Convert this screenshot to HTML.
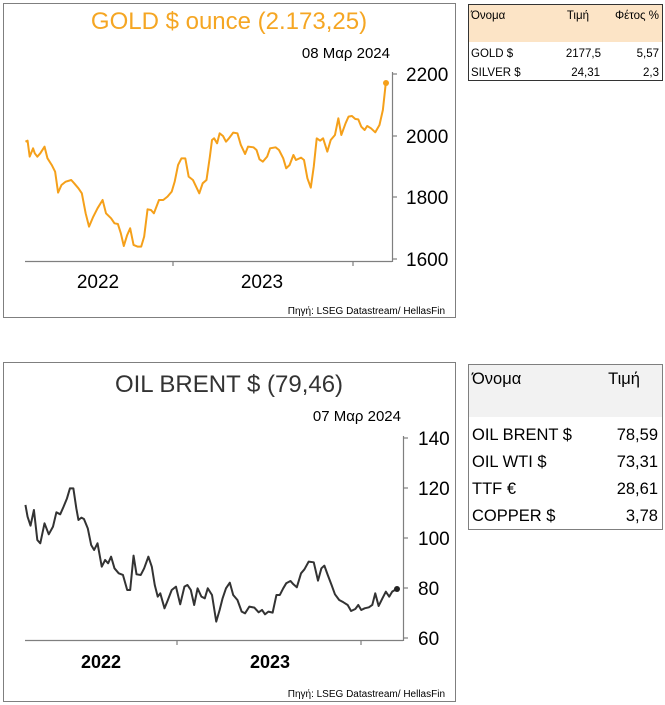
<!DOCTYPE html>
<html><head><meta charset="utf-8"><style>
body{margin:0;background:#fff;}
svg{display:block;font-family:"Liberation Sans","DejaVu Sans",sans-serif;}
</style></head><body>
<svg width="665" height="705" viewBox="0 0 665 705">
<rect x="0" y="0" width="665" height="705" fill="#fff"/>
<!-- GOLD panel -->
<rect x="3.5" y="3.5" width="452" height="314" fill="#fff" stroke="#7f7f7f" stroke-width="1"/>
<text x="229" y="29" text-anchor="middle" font-size="24" fill="#f5a623">GOLD $ ounce (2.173,25)</text>
<text x="390" y="58" text-anchor="end" font-size="15" fill="#000">08 Μαρ 2024</text>
<line x1="25" y1="261.5" x2="392" y2="261.5" stroke="#7f7f7f" stroke-width="1.2"/>
<line x1="392.5" y1="72" x2="392.5" y2="262" stroke="#7f7f7f" stroke-width="1.2"/>
<g stroke="#7f7f7f" stroke-width="1.2">
<line x1="392" y1="74" x2="397" y2="74"/><line x1="392" y1="136" x2="397" y2="136"/><line x1="392" y1="197" x2="397" y2="197"/><line x1="392" y1="259" x2="397" y2="259"/>
<line x1="173" y1="261" x2="173" y2="266"/><line x1="353" y1="261" x2="353" y2="266"/>
</g>
<g font-size="19" fill="#000">
<text x="406" y="81">2200</text><text x="406" y="143">2000</text><text x="406" y="204">1800</text><text x="406" y="266">1600</text>
<text x="98" y="288" text-anchor="middle">2022</text><text x="262" y="288" text-anchor="middle">2023</text>
</g>
<text x="445" y="314" text-anchor="end" font-size="10" fill="#000">Πηγή: LSEG Datastream/ HellasFin</text>
<g transform="scale(0.424,0.3333)">
<polyline fill="none" stroke="#f5a01a" stroke-width="2" vector-effect="non-scaling-stroke" stroke-linejoin="round" points="60,425 65,422 70,470 78,445 82,460 88,470 95,460 105,440 112,475 122,495 130,515 137,578 145,555 155,545 168,540 175,550 185,565 193,580 202,640 210,680 220,650 230,625 242,600 250,640 262,655 270,670 278,672 285,700 292,738 300,705 307,685 315,735 325,740 333,740 340,710 348,628 356,630 363,640 375,600 385,600 395,590 405,575 412,545 420,495 428,475 437,475 445,530 455,540 470,580 478,550 487,540 495,470 500,420 505,415 512,430 518,400 526,408 533,425 540,415 550,398 560,400 568,435 578,462 585,440 598,442 605,450 612,478 620,485 630,470 637,445 650,442 658,450 668,475 675,505 683,495 692,465 698,480 710,473 717,480 725,535 733,563 740,500 747,415 755,422 762,415 772,455 780,420 790,405 798,355 805,405 815,370 822,350 830,348 838,357 845,358 852,380 860,390 866,378 875,385 885,397 895,375 903,330 910,248"/>
</g>
<circle cx="386" cy="83" r="3" fill="#f5a01a"/>
<!-- GOLD table -->
<rect x="468.5" y="4.5" width="194" height="76" fill="#fff" stroke="#333" stroke-width="1"/>
<rect x="469" y="5" width="193" height="37" fill="#fce4c6"/>
<g font-size="11.5" fill="#000">
<text x="471" y="19">Όνομα</text><text x="589" y="19" text-anchor="end">Τιμή</text><text x="659" y="19" text-anchor="end">Φέτος %</text>
<text x="471" y="57">GOLD $</text><text x="601" y="57" text-anchor="end">2177,5</text><text x="659" y="57" text-anchor="end">5,57</text>
<text x="471" y="76">SILVER $</text><text x="600" y="76" text-anchor="end">24,31</text><text x="659" y="76" text-anchor="end">2,3</text>
</g>
<!-- OIL panel -->
<rect x="3.5" y="362.5" width="452" height="339" fill="#fff" stroke="#7f7f7f" stroke-width="1"/>
<text x="229" y="392" text-anchor="middle" font-size="24" fill="#333">OIL BRENT $ (79,46)</text>
<text x="401" y="421" text-anchor="end" font-size="15" fill="#000">07 Μαρ 2024</text>
<line x1="25" y1="640.5" x2="403" y2="640.5" stroke="#7f7f7f" stroke-width="1.2"/>
<line x1="403.5" y1="436" x2="403.5" y2="641" stroke="#7f7f7f" stroke-width="1.2"/>
<g stroke="#7f7f7f" stroke-width="1.2">
<line x1="403" y1="438" x2="408" y2="438"/><line x1="403" y1="488" x2="408" y2="488"/><line x1="403" y1="538" x2="408" y2="538"/><line x1="403" y1="588" x2="408" y2="588"/><line x1="403" y1="638" x2="408" y2="638"/>
<line x1="177" y1="640" x2="177" y2="645"/><line x1="361" y1="640" x2="361" y2="645"/>
</g>
<g font-size="19" fill="#000">
<text x="418" y="445">140</text><text x="418" y="495">120</text><text x="418" y="545">100</text><text x="418" y="595">80</text><text x="418" y="645">60</text>
<text x="101" y="668" text-anchor="middle" font-weight="bold" font-size="18">2022</text><text x="270" y="668" text-anchor="middle" font-weight="bold" font-size="18">2023</text>
</g>
<text x="445" y="697" text-anchor="end" font-size="10" fill="#000">Πηγή: LSEG Datastream/ HellasFin</text>
<g transform="translate(0,355) scale(0.424,0.3333)">
<polyline fill="none" stroke="#333" stroke-width="2" vector-effect="non-scaling-stroke" stroke-linejoin="round" points="60,450 65,485 72,512 80,465 88,555 95,565 105,505 115,538 125,515 133,472 142,478 150,455 158,430 165,400 173,400 180,460 185,495 192,488 198,492 207,520 215,570 222,585 230,565 240,635 248,615 255,625 262,605 270,640 280,655 290,660 300,705 307,705 315,602 322,658 332,660 340,640 350,605 358,635 365,690 372,725 378,715 388,760 395,738 405,705 415,695 425,748 435,695 442,690 450,705 458,750 466,700 475,725 483,730 490,700 500,720 510,800 518,765 525,730 533,700 542,683 550,720 560,735 570,770 578,775 588,755 600,758 610,772 618,765 625,778 633,770 643,773 652,720 660,720 668,700 675,685 685,678 692,688 700,697 710,655 718,643 728,620 740,622 750,677 758,640 765,632 773,660 782,690 790,718 800,735 810,742 820,750 828,768 838,762 845,750 852,765 860,760 870,757 878,750 885,715 893,753 902,730 910,710 918,725 925,710 935,702"/>
</g>
<circle cx="397" cy="589" r="3" fill="#222"/>
<!-- OIL table -->
<rect x="468.5" y="364.5" width="194" height="165" fill="#fff" stroke="#7f7f7f" stroke-width="1"/>
<rect x="469" y="365" width="193" height="52" fill="#f2f2f2"/>
<g font-size="16.5" fill="#000">
<text x="472" y="384">Όνομα</text><text x="640" y="384" text-anchor="end">Τιμή</text>
<text x="472" y="440">OIL BRENT $</text><text x="658" y="440" text-anchor="end">78,59</text>
<text x="472" y="467">OIL WTI $</text><text x="658" y="467" text-anchor="end">73,31</text>
<text x="472" y="494">TTF €</text><text x="658" y="494" text-anchor="end">28,61</text>
<text x="472" y="521">COPPER $</text><text x="658" y="521" text-anchor="end">3,78</text>
</g>
</svg>
</body></html>
